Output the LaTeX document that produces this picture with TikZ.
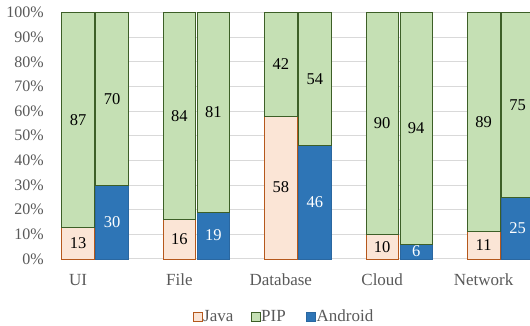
\documentclass[tikz,border=0pt]{standalone}
\usepackage{fontspec}
\setmainfont{Liberation Serif}

\begin{document}
\begin{tikzpicture}[x=1pt,y=2.465pt,
  seg/.style={line width=0.8pt},
  val/.style={font=\fontsize{16.5}{18}\selectfont,inner sep=0pt},
  tick/.style={font=\fontsize{16}{18}\selectfont,text=axisgray,anchor=east,inner sep=0pt},
  cat/.style={font=\fontsize{17}{18}\selectfont,text=axisgray,inner sep=0pt}]

\definecolor{javafill}{HTML}{FBE5D6}
\definecolor{javaline}{HTML}{B5581C}
\definecolor{pipfill}{HTML}{C5E0B4}
\definecolor{pipline}{HTML}{3D5F27}
\definecolor{androidfill}{HTML}{2E75B6}
\definecolor{androidline}{HTML}{2A67A0}
\definecolor{axisgray}{HTML}{595959}
\definecolor{gridgray}{HTML}{D9D9D9}

\useasboundingbox (0pt,-67pt) rectangle (530pt,259pt);
\clip (0pt,-67pt) rectangle (530pt,259pt);

% grid and y axis
\foreach \p in {0,10,...,100}{
  \draw[gridgray,line width=1pt] (61.7,\p) -- (530,\p);
  \node[tick] (t\p) at (44,\p) {\p\%};
}

% stacked bars: Java share / Android share, PIP fills up to 100
\foreach \j/\a/\name [count=\i from 0] in
    {13/30/UI,16/19/File,58/46/Database,10/6/Cloud,11/25/Network}{
  \pgfmathsetmacro\xl{61.7+101.4*\i}
  \pgfmathsetmacro\xr{\xl+34}
  \pgfmathtruncatemacro\pj{100-\j}
  \pgfmathtruncatemacro\pa{100-\a}
  \filldraw[seg,fill=javafill,draw=javaline] (\xl,0) rectangle ({\xl+32.6},\j);
  \filldraw[seg,fill=pipfill,draw=pipline] (\xl,\j) rectangle ({\xl+32.6},100);
  \filldraw[seg,fill=androidfill,draw=androidline] (\xr,0) rectangle ({\xr+32.6},\a);
  \filldraw[seg,fill=pipfill,draw=pipline] (\xr,\a) rectangle ({\xr+32.6},100);
  \node[val] (j\i) at ({\xl+16.3},{\j/2}) {\j};
  \node[val] (pj\i) at ({\xl+16.3},{(100+\j)/2}) {\pj};
  \node[val,text=white] (a\i) at ({\xr+16.3},{\a/2}) {\a};
  \node[val] (pa\i) at ({\xr+16.3},{(100+\a)/2}) {\pa};
  \node[cat] (c\i) at ({\xl+16.3},-8.5) {\name};
}

% legend
\begin{scope}[y=1pt]
\foreach \s/\t/\x in {java/Java/193,pip/PIP/251,android/Android/306.5}{
  \filldraw[seg,fill=\s fill,draw=\s line] (\x,-62) rectangle ++(9,9);
  \node[cat,anchor=base west] (l\s) at ({\x+10},-62.5) {\t};
}
\end{scope}

\end{tikzpicture}
\end{document}
